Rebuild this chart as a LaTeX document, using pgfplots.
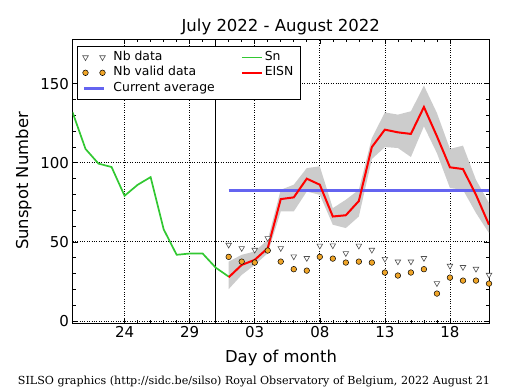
\documentclass[border=0pt]{standalone}
\usepackage{pgfplots}
\pgfplotsset{compat=1.18}
\usepackage{fontspec}
\setmainfont{DejaVu Sans}
\newfontfamily\seriffont{DejaVu Serif}
\definecolor{snGreen}{RGB}{50,200,50}
\definecolor{avgBlue}{RGB}{100,100,240}
\definecolor{validOrange}{RGB}{240,165,40}
\definecolor{bandGray}{RGB}{204,204,204}
\definecolor{triGray}{RGB}{80,80,80}
\pgfplotsset{
  twomarks/.style={legend image code/.code={\draw[mark repeat=2,mark phase=1,##1] plot coordinates {(1.5bp,0bp) (10bp,0bp) (18.5bp,0bp)};}},
  shortline/.style={legend image code/.code={\draw[##1] (0bp,0bp) -- (20bp,0bp);}},
}
\begin{document}
\begin{tikzpicture}
\useasboundingbox (0,0) rectangle (515bp,390bp);
\begin{axis}[
  at={(72.5bp,67bp)}, anchor=south west,
  scale only axis, width=416.5bp, height=283.7bp,
  xmin=20, xmax=52, ymin=-1.3, ymax=178,
  xtick={24,29,34,39,44,49}, xticklabels={24,29,03,08,13,18},
  ytick={0,50,100,150},
  minor x tick num=4, minor y tick num=4,
  tick align=inside, tick pos=both,
  major tick length=5bp, minor tick length=3bp,
  tick style={black, line width=0.6bp},
  axis line style={line width=1bp},
  grid=major, major grid style={dotted, black, line width=0.7bp},
  /pgf/number format/assume math mode=true,
  ticklabel style={font=\fontsize{15bp}{18bp}\selectfont},
  legend columns=2,
  legend cell align=left,
  legend style={at={(0,1)}, anchor=north west, xshift=4.5bp, yshift=-6.4bp,
    draw=black, line width=1bp, inner xsep=5bp, inner ysep=3.5bp,
    font=\fontsize{12.4bp}{14bp}\selectfont,
    nodes={text height=9bp, text depth=3bp, inner ysep=1.7bp},
    /tikz/every even column/.append style={column sep=24bp}},
  shortline,
]
% uncertainty band of EISN (upper edge, then lower edge reversed)
\addplot[fill=bandGray, draw=none, forget plot] coordinates {
(32,37.5) (33,41.8) (34,43.9) (35,51.3) (36,82.9) (37,86.1) (38,96.6) (39,97.7)
(40,71.3) (41,76.6) (42,82.9) (43,115.6) (44,131.8) (45,130.4) (46,132.5)
(47,148.7) (48,131.4) (49,108.7) (50,110.8) (51,89.2) (52,74.5)
(52,55.5) (51,68.2) (50,82.9) (49,84.0) (48,106.0) (47,123.0) (46,103.6)
(45,109.3) (44,109.9) (43,102.3) (42,66.0) (41,58.7) (40,60.8) (39,79.7)
(38,81.8) (37,69.2) (36,69.2) (35,42.8) (34,35.4) (33,29.1) (32,20.1)} -- cycle;
% month boundary
\addplot[black, line width=1.2bp, forget plot] coordinates {(31,-1.3) (31,178)};
% Nb data
\addplot[only marks, mark=triangle*, mark size=3.2bp,
  mark options={rotate=180, draw=triGray, fill=white, line width=0.6bp}, twomarks]
  coordinates {
(32,48.1) (33,46.0) (34,44.9) (35,52.3) (36,46.0) (37,40.7) (38,39.7) (39,47.5)
(40,47.7) (41,42.8) (42,47.5) (43,44.9) (44,39.2) (45,37.5) (46,37.5) (47,39.7)
(48,23.8) (49,34.8) (50,34.0) (51,32.9) (52,29.1)};
\addlegendentry{\hspace{6bp}Nb data}
% Sn
\addplot[snGreen, line width=1.7bp] coordinates {
(20,132) (21,108.7) (22,99.4) (23,97.3) (24,79.1) (25,86.0) (26,90.9)
(27,58.0) (28,41.8) (29,42.6) (30,42.6) (31,33.7) (32,28.0)};
\addlegendentry{Sn}
% Nb valid data
\addplot[only marks, mark=*, mark size=2.8bp,
  mark options={draw=black, fill=validOrange, line width=0.5bp}, twomarks]
  coordinates {
(32,40.5) (33,37.5) (34,36.9) (35,44.5) (36,37.5) (37,32.7) (38,31.8) (39,40.5)
(40,39.4) (41,36.9) (42,37.5) (43,36.9) (44,30.6) (45,28.7) (46,30.6) (47,32.7)
(48,17.3) (49,27.4) (50,25.5) (51,25.5) (52,23.6)};
\addlegendentry{\hspace{6bp}Nb valid data}
% Current average (drawn under EISN, listed last in legend)
\addplot[avgBlue, line width=3bp, forget plot] coordinates {(32,82.7) (52,82.7)};
% EISN
\addplot[red, line width=2bp] coordinates {
(32,27.6) (33,35.4) (34,38.6) (35,46.0) (36,77.0) (37,78.1) (38,89.9) (39,86.1)
(40,66.0) (41,66.8) (42,75.8) (43,109.9) (44,120.9) (45,119.2) (46,118.2)
(47,135.2) (48,116.7) (49,97.1) (50,96.0) (51,79.7) (52,60.8)};
\addlegendentry{EISN\hspace{5bp}}
\addlegendimage{avgBlue, line width=3bp}
\addlegendentry{\hspace{6bp}Current average}
\end{axis}
\node[font=\fontsize{16.5bp}{19bp}\selectfont, anchor=base] at (280.75bp,358bp) {July 2022 - August 2022};
\node[font=\fontsize{16.4bp}{19bp}\selectfont, anchor=base] at (281bp,28bp) {Day of month};
\node[font=\fontsize{16.4bp}{19bp}\selectfont, anchor=base, rotate=90] at (28bp,209bp) {Sunspot Number};
\node[font=\seriffont\fontsize{11.1bp}{13bp}\selectfont, anchor=base] at (254bp,5.5bp) {SILSO graphics (http://sidc.be/silso) Royal Observatory of Belgium, 2022 August 21};
\end{tikzpicture}
\end{document}
